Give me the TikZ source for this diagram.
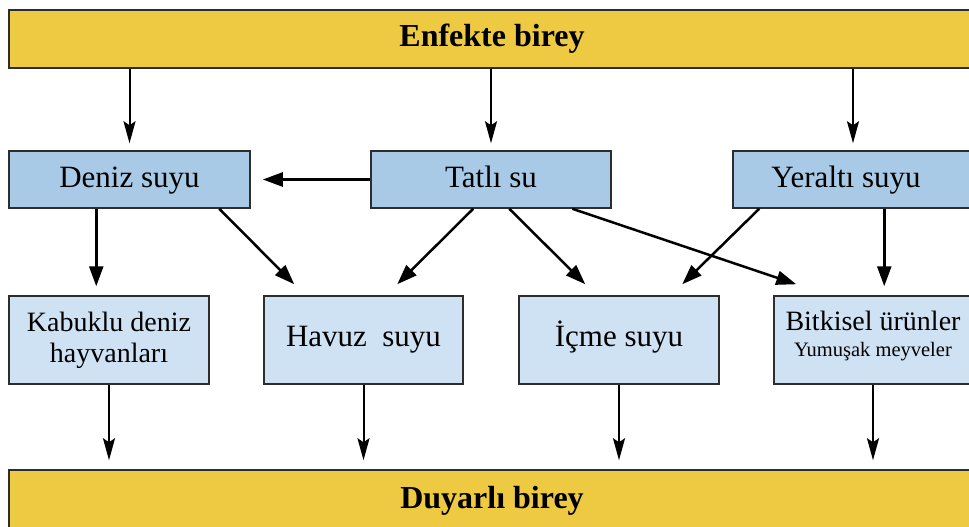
\documentclass[tikz,border=0pt]{standalone}
\usepackage{fontspec}
\setmainfont{Liberation Serif}
\usetikzlibrary{arrows.meta,calc}
\definecolor{barY}{RGB}{237,202,66}
\definecolor{midB}{RGB}{168,202,230}
\definecolor{lowB}{RGB}{207,226,243}
\definecolor{edge}{RGB}{45,45,45}
\tikzset{
  barbox/.style={draw=edge, line width=1.5pt, fill=barY, inner sep=0pt,
    text height=23pt, text depth=7pt, font=\bfseries\fontsize{32}{32}\selectfont},
  midbox/.style={draw=edge, line width=1.5pt, fill=midB, inner sep=0pt,
    minimum height=57pt, text height=22pt, text depth=7pt, font=\fontsize{31}{31}\selectfont},
  lowbox/.style={draw=edge, line width=1.5pt, fill=lowB, inner sep=0pt,
    minimum height=88pt, align=center, font=\fontsize{31}{31}\selectfont},
  onetext/.style={text height=21pt, text depth=9pt},
  thinarrow/.style={line width=2pt, -{Stealth[length=22pt,width=12pt,inset=4pt]}},
  flowarrow/.style={line width=2.5pt, -{Triangle[length=20pt,width=14pt]}}
}
\begin{document}
\begin{tikzpicture}[x=1pt,y=-1pt]
\useasboundingbox (0,0) rectangle (969,527);
% bars
\node[barbox, minimum width=966pt, minimum height=58pt] (top) at (492,39) {Enfekte birey};
\node[barbox, minimum width=966pt, minimum height=60pt] (bottom) at (492,500) {Duyarlı birey};
% middle row
\node[midbox, minimum width=241pt] (deniz) at (129.5,179.5) {Deniz suyu};
\node[midbox, minimum width=240pt] (tatli) at (491,179.5) {Tatlı su};
\node[midbox, minimum width=240pt] (yeralti) at (853,179.5) {Yeraltı suyu\hspace*{14pt}};
% lower row
\node[lowbox, minimum width=200pt, font=\fontsize{28}{31}\selectfont] (kabuklu) at (109,340) {Kabuklu deniz\\hayvanları};
\node[lowbox, onetext, minimum width=199pt] (havuz) at (363.5,340) {Havuz\ \ suyu};
\node[lowbox, onetext, minimum width=200pt] (icme) at (619,340) {İçme suyu};
\node[lowbox, minimum width=198pt, font=\fontsize{28}{26}\selectfont] (bitkisel) at (873,340) {Bitkisel ürünler\\{\fontsize{20.5}{26}\selectfont Yumuşak meyveler\rule[-12pt]{0pt}{12pt}}};
% arrows from top bar
\draw[thinarrow] (top.south -| deniz.north) -- ([yshift=7pt]deniz.north);
\draw[thinarrow] (top.south -| tatli.north) -- ([yshift=7pt]tatli.north);
\draw[thinarrow] (top.south -| yeralti.north) -- ([yshift=7pt]yeralti.north);
% middle arrows
\draw[flowarrow] (tatli.west) -- ([xshift=12pt]deniz.east);
\draw[flowarrow] ($(deniz.south west)+(88,0)$) -- ($(kabuklu.north west)+(88,-9)$);
\draw[flowarrow] ($(deniz.south west)+(211,0)$) -- ($(havuz.north west)+(31,-11)$);
\draw[flowarrow] ($(tatli.south west)+(103,0)$) -- ($(havuz.north west)+(134,-11)$);
\draw[flowarrow] ($(tatli.south west)+(139,0)$) -- ($(icme.north west)+(67,-11)$);
\draw[flowarrow] ($(tatli.south west)+(202,0)$) -- ($(bitkisel.north west)+(23,-11)$);
\draw[flowarrow] ($(yeralti.south west)+(27,0)$) -- ($(icme.north west)+(164,-11)$);
\draw[flowarrow] ($(yeralti.south west)+(152,0)$) -- ($(bitkisel.north west)+(111,-9)$);
% arrows to bottom bar
\draw[thinarrow] (kabuklu.south) -- ([yshift=9pt]kabuklu.south |- bottom.north);
\draw[thinarrow] (havuz.south) -- ([yshift=9pt]havuz.south |- bottom.north);
\draw[thinarrow] (icme.south) -- ([yshift=9pt]icme.south |- bottom.north);
\draw[thinarrow] (bitkisel.south) -- ([yshift=9pt]bitkisel.south |- bottom.north);
\end{tikzpicture}
\end{document}
